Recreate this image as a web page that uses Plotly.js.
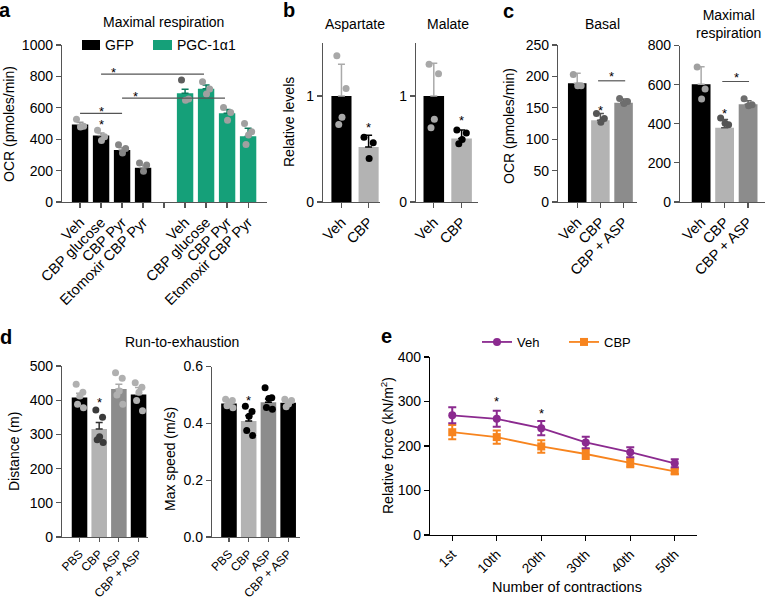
<!DOCTYPE html>
<html>
<head>
<meta charset="utf-8">
<script src="https://cdn.plot.ly/plotly-3.0.1.min.js"></script>
<style>html,body{margin:0;padding:0;background:#fff;}#chart{width:765px;height:603px;}</style>
</head>
<body>
<div id="chart"></div>
<script>
// ---------------- DATA ----------------
// Panel a: Maximal respiration
const aCats = ["Veh", "CBP glucose", "CBP Pyr", "Etomoxir CBP Pyr"];
const aGFP = [493, 423, 331, 218];
const aGFPerr = [15, 17, 15, 16];
const aPGC = [693, 722, 565, 418];
const aPGCerr = [25, 23, 24, 52];
const aGFPdots = [[527, 482, 478], [457, 416, 392], [365, 340, 312], [248, 236, 196]];
const aPGCdots = [[777, 656, 648], [766, 720, 688], [602, 570, 520], [500, 448, 427, 367]];
// significance in a: from / to category position, line value, star position
const aSigFrom = [0, 1, 2];
const aSigTo = [2, 5.9, 6.9];
const aSigLine = [565, 815, 662];
const aSigStarX = [1, 1.57, 2.62];
const aSigStar = [604, 852, 697];
const aStarGlucose = 522;

// Panel b
const bCats = ["Veh", "CBP"];
const bAsp = [1.0, 0.52];
const bAspErr = [0.30, 0.11];
const bAspDots = [[1.38, 1.07, 0.80, 0.73], [0.61, 0.56, 0.41]];
const bAspStar = 0.745;
const bMal = [1.0, 0.60];
const bMalErr = [0.31, 0.08];
const bMalDots = [[1.30, 1.21, 0.78, 0.70], [0.68, 0.65, 0.59, 0.55]];
const bMalStar = 0.81;

// Panel c
const cCats = ["Veh", "CBP", "CBP + ASP"];
const cBasal = [189, 130, 158];
const cBasalErr = [16, 11, 6];
const cBasalDots = [[203, 185, 185], [141, 133, 127], [165, 160, 157]];
const cBasalStar = 152;
const cBasalSig = 193, cBasalSigStar = 206;
const cMax = [602, 380, 500];
const cMaxErr = [90, 42, 18];
const cMaxDots = [[690, 577, 526], [429, 395, 403], [528, 497, 492]];
const cMaxStar = 471;
const cMaxSig = 616, cMaxSigStar = 659;

// Panel d
const dCats = ["PBS", "CBP", "ASP", "CBP + ASP"];
const dDist = [408, 316, 433, 417];
const dDistErr = [12, 19, 14, 20];
const dDistDots = [[447, 423, 412, 388, 378], [371, 350, 293, 284, 276], [480, 464, 427, 415, 388], [451, 438, 423, 399, 369]];
const dDistStar = 405;
const dSpeed = [0.470, 0.408, 0.474, 0.472];
const dSpeedErr = [0.010, 0.020, 0.012, 0.010];
const dSpeedDots = [[0.485, 0.480, 0.470, 0.462, 0.455], [0.460, 0.442, 0.425, 0.375, 0.357], [0.525, 0.490, 0.487, 0.456, 0.450], [0.485, 0.480, 0.468, 0.458]];
const dSpeedStar = 0.494;

// Panel e
const eCats = ["1st", "10th", "20th", "30th", "40th", "50th"];
const eVeh = [269, 261, 240, 208, 186, 161];
const eVehErr = [18, 18, 16, 13, 11, 9];
const eCBP = [231, 220, 199, 182, 162, 143];
const eCBPErr = [16, 15, 14, 11, 10, 6];
const eStarIdx = [1, 2];
const eStarVal = [310, 281];

// ---------------- STYLE / LAYOUT ----------------
const W = 765, H = 603;
const FONT = 'Liberation Sans, Arial, Helvetica, sans-serif';
const GREEN = '#15a079';
const JIT = [-0.17, 0.17, 0.02, -0.1, 0.2];
const xd = (a, b) => [a / W, b / W];
const yd = (top, bot) => [1 - bot / H, 1 - top / H];

const traces = [];
const shapes = [];
const annotations = [];

function addBars(ax, xs, vals, errs, colors, errColors, width) {
  vals.forEach((v, i) => {
    traces.push({
      type: 'bar', x: [xs[i]], y: [v], width: width,
      marker: {color: colors[i], line: {width: 0}},
      error_y: {type: 'data', symmetric: false, array: [errs[i]], arrayminus: [0],
        color: errColors[i], thickness: 1.5, width: 3.5},
      xaxis: 'x' + ax, yaxis: 'y' + ax, showlegend: false, hoverinfo: 'skip'
    });
  });
}
function addDots(ax, xs, dots, colorFn, size) {
  const x = [], y = [], c = [];
  dots.forEach((arr, i) => arr.forEach((v, k) => {
    x.push(xs[i] + JIT[k % JIT.length]); y.push(v); c.push(colorFn(i, k));
  }));
  traces.push({type: 'scatter', mode: 'markers', x: x, y: y,
    marker: {size: size || 7, color: c, line: {width: 0}},
    xaxis: 'x' + ax, yaxis: 'y' + ax, showlegend: false, hoverinfo: 'skip', cliponaxis: false});
}
function star(ax, x, y) {
  annotations.push({xref: 'x' + ax, yref: 'y' + ax, x: x, y: y, text: '*', showarrow: false,
    font: {size: 13, color: '#000', family: FONT}, yshift: -4});
}
function sig(ax, x0, x1, yv) {
  shapes.push({type: 'line', xref: 'x' + ax, yref: 'y' + ax, x0: x0, x1: x1, y0: yv, y1: yv,
    line: {color: '#555', width: 1.2}});
}
function pText(text, x, y, opts) {
  annotations.push(Object.assign({xref: 'paper', yref: 'paper', x: x / W, y: 1 - y / H,
    xanchor: 'center', yanchor: 'middle', text: text, showarrow: false,
    font: {size: 14, color: '#000', family: FONT}}, opts || {}));
}

// ---- panel a ----
const aGFPx = aCats.map((_, i) => i);
const aPGCx = aCats.map((_, i) => i + aCats.length + 1);
addBars('', aGFPx, aGFP, aGFPerr, aGFP.map(() => '#000'), aGFP.map(() => '#999'), 0.78);
addBars('', aPGCx, aPGC, aPGCerr, aPGC.map(() => GREEN), aPGC.map(() => '#0b7a5c'), 0.78);
addDots('', aGFPx, aGFPdots, (i) => i < 2 ? '#a8a8a8' : '#858585');
addDots('', aPGCx, aPGCdots, (i, k) => (i === 0 && k === 0) ? '#5e5e5e' : '#a0a0a0');
aSigFrom.forEach((f, j) => {
  sig('', f, aSigTo[j], aSigLine[j]);
  star('', aSigStarX[j], aSigStar[j]);
});
star('', 1, aStarGlucose);
const aTickVals = [...aGFPx, aCats.length, ...aPGCx];
const aTickText = [...aCats, ' ', ...aCats];

// ---- panel b ----
const bx = bCats.map((_, i) => i);
addBars('2', bx, bAsp, bAspErr, ['#000', '#b3b3b3'], ['#aaa', '#000'], 0.74);
addDots('2', bx, bAspDots, (i) => i === 0 ? '#a8a8a8' : '#000');
star('2', 1, bAspStar);
addBars('3', bx, bMal, bMalErr, ['#000', '#b3b3b3'], ['#aaa', '#000'], 0.74);
addDots('3', bx, bMalDots, (i) => i === 0 ? '#a8a8a8' : '#000');
star('3', 1, bMalStar);

// ---- panel c ----
const cx = cCats.map((_, i) => i);
const cBarCols = ['#000', '#b3b3b3', '#8c8c8c'];
addBars('4', cx, cBasal, cBasalErr, cBarCols, ['#aaa', '#555', '#666'], 0.8);
addDots('4', cx, cBasalDots, (i) => ['#a0a0a0', '#555', '#6e6e6e'][i]);
star('4', 1, cBasalStar);
sig('4', 0.9, 2.07, cBasalSig); star('4', 1.5, cBasalSigStar);
addBars('5', cx, cMax, cMaxErr, cBarCols, ['#aaa', '#555', '#666'], 0.8);
addDots('5', cx, cMaxDots, (i) => ['#a0a0a0', '#555', '#6e6e6e'][i]);
star('5', 1, cMaxStar);
sig('5', 0.9, 2.04, cMaxSig); star('5', 1.5, cMaxSigStar);

// ---- panel d ----
const dx = dCats.map((_, i) => i);
const dBarCols = ['#000', '#b3b3b3', '#8c8c8c', '#000'];
addBars('6', dx, dDist, dDistErr, dBarCols, ['#aaa', '#333', '#aaa', '#aaa'], 0.79);
addDots('6', dx, dDistDots, (i) => ['#b0b0b0', '#3a3a3a', '#b0b0b0', '#b0b0b0'][i]);
star('6', 1, dDistStar);
addBars('7', dx, dSpeed, dSpeedErr, dBarCols, ['#aaa', '#000', '#000', '#aaa'], 0.79);
addDots('7', dx, dSpeedDots, (i) => ['#b0b0b0', '#000', '#000', '#b0b0b0'][i]);
star('7', 1, dSpeedStar);

// ---- panel e ----
const PURPLE = '#8b2a8f', ORANGE = '#f7841e';
traces.push({type: 'scatter', mode: 'lines+markers', name: 'CBP', x: eCats, y: eCBP,
  line: {color: ORANGE, width: 1.8}, marker: {symbol: 'square', size: 8, color: ORANGE},
  error_y: {type: 'data', array: eCBPErr, color: ORANGE, thickness: 2, width: 4},
  xaxis: 'x8', yaxis: 'y8', legend: 'legend', legendrank: 2});
traces.push({type: 'scatter', mode: 'lines+markers', name: 'Veh', x: eCats, y: eVeh,
  line: {color: PURPLE, width: 1.8}, marker: {symbol: 'circle', size: 8, color: PURPLE},
  error_y: {type: 'data', array: eVehErr, color: PURPLE, thickness: 2, width: 4},
  xaxis: 'x8', yaxis: 'y8', legend: 'legend', legendrank: 1});
eStarIdx.forEach((k, j) => star('8', eCats[k], eStarVal[j]));

// ---- panel titles/labels ----
const LETTER = {size: 20, family: FONT, color: '#000'};
pText('<b>a</b>', 5, 10, {font: LETTER});
pText('<b>b</b>', 289, 10, {font: LETTER});
pText('<b>c</b>', 508, 11, {font: LETTER});
pText('<b>d</b>', 6, 337, {font: LETTER});
pText('<b>e</b>', 386, 336, {font: LETTER});
pText('Maximal respiration', 163, 22);
pText('Aspartate', 355, 24);
pText('Malate', 448, 24);
pText('Basal', 602, 24);
pText('Maximal<br>respiration', 728, 24);
pText('Run-to-exhaustion', 182, 342);
pText('OCR (pmoles/min)', 9, 124, {textangle: -90});
pText('Relative levels', 289, 122, {textangle: -90});
pText('OCR (pmoles/min)', 509, 126, {textangle: -90});
pText('Distance (m)', 14, 452, {textangle: -90});
pText('Max speed (m/s)', 170, 459, {textangle: -90});
pText('Relative force (kN/m<sup>2</sup>)', 387, 446, {textangle: -90});
pText('Number of contractions', 567, 587, {font: {size: 14.5, family: FONT, color: '#000'}});
// panel a legend
shapes.push({type: 'rect', xref: 'paper', yref: 'paper', x0: 82 / W, x1: 100 / W, y0: 1 - 50 / H, y1: 1 - 40 / H, fillcolor: '#000', line: {width: 0}});
shapes.push({type: 'rect', xref: 'paper', yref: 'paper', x0: 153 / W, x1: 172 / W, y0: 1 - 50 / H, y1: 1 - 40 / H, fillcolor: GREEN, line: {width: 0}});
pText('GFP', 103, 45, {xanchor: 'left'});
pText('PGC-1\u03b11', 175, 45, {xanchor: 'left'});

// ---------------- AXES ----------------
function xAx(n, domain, range, vals, text, extra) {
  return Object.assign({anchor: 'y' + n, domain: domain, range: range, tickvals: vals, ticktext: text,
    tickangle: -45, showgrid: false, zeroline: false, showline: true, linecolor: '#555', linewidth: 1.2,
    ticks: 'outside', ticklen: 5, tickwidth: 1.2, tickcolor: '#555',
    tickfont: {size: 14.5, color: '#000', family: FONT}, fixedrange: true}, extra || {});
}
function yAx(n, domain, range, extra) {
  return Object.assign({anchor: 'x' + n, domain: domain, range: range, showgrid: false, zeroline: false,
    showline: true, linecolor: '#555', linewidth: 1.2, ticks: 'outside', ticklen: 5, tickwidth: 1.2,
    tickcolor: '#555', tickfont: {size: 14, color: '#000', family: FONT}, fixedrange: true}, extra || {});
}
const D_TICKFONT = {size: 12, color: '#000', family: FONT};

const layout = {
  width: W, height: H, autosize: false,
  margin: {l: 0, r: 0, t: 0, b: 0, pad: 0},
  paper_bgcolor: '#fff', plot_bgcolor: 'rgba(0,0,0,0)',
  font: {family: FONT, color: '#000', size: 14},
  barmode: 'overlay', showlegend: true,
  legend: {orientation: 'h', x: 477 / W, y: 1 - 342 / H, xanchor: 'left', yanchor: 'middle',
    font: {size: 13, family: FONT, color: '#000'}, bgcolor: 'rgba(0,0,0,0)',
    entrywidth: 42, entrywidthmode: 'pixels', traceorder: 'normal'},
  xaxis: xAx('', xd(62, 267), [-0.86, 8.9], aTickVals, aTickText),
  yaxis: yAx('', yd(45, 202), [0, 1000], {dtick: 200}),
  xaxis2: xAx('2', xd(323, 380), [-0.68, 1.42], bx, bCats),
  yaxis2: yAx('2', yd(43, 202), [0, 1.5], {tickvals: [0, 1]}),
  xaxis3: xAx('3', xd(416, 478), [-0.64, 1.59], bx, bCats),
  yaxis3: yAx('3', yd(43, 202), [0, 1.5], {tickvals: [0, 1]}),
  xaxis4: xAx('4', xd(558, 637), [-0.83, 2.58], cx, cCats),
  yaxis4: yAx('4', yd(45, 202), [0, 250], {dtick: 50}),
  xaxis5: xAx('5', xd(680, 765), [-0.9, 2.72], cx, cCats),
  yaxis5: yAx('5', yd(45.5, 202), [0, 800], {dtick: 200}),
  xaxis6: xAx('6', xd(62, 148), [-0.89, 3.48], dx, dCats, {tickfont: D_TICKFONT, ticklen: 4}),
  yaxis6: yAx('6', yd(366, 537), [0, 500], {dtick: 100}),
  xaxis7: xAx('7', xd(212, 300), [-0.86, 3.6], dx, dCats, {tickfont: D_TICKFONT, ticklen: 4}),
  yaxis7: yAx('7', yd(366.5, 537), [0, 0.6], {tickvals: [0, 0.2, 0.4, 0.6], tickformat: '.1f'}),
  xaxis8: {anchor: 'y8', domain: xd(430, 697), type: 'category', range: [-0.5, 5.5], tickangle: -45,
    showgrid: false, zeroline: false, showline: true, linecolor: '#000', linewidth: 1.2,
    ticks: 'outside', ticklen: 5, tickwidth: 1.2, tickcolor: '#000',
    tickfont: {size: 13.5, color: '#000', family: FONT}, fixedrange: true},
  yaxis8: yAx('8', yd(357, 535), [0, 400], {dtick: 100, linecolor: '#000', tickcolor: '#000'}),
  shapes: shapes,
  annotations: annotations
};

Plotly.newPlot('chart', traces, layout, {displayModeBar: false, staticPlot: true});
</script>
</body>
</html>
